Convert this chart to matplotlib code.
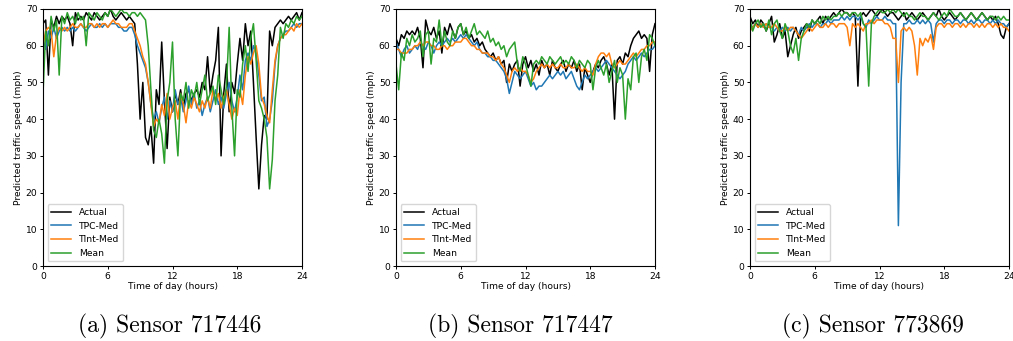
import numpy as np
import matplotlib
matplotlib.use('Agg')
import matplotlib.pyplot as plt
plt.rcParams.update({'font.size': 6.6})
plt.rcParams.update({'lines.linewidth': 1.1})

# time of day, one sample every 15 minutes
hours = np.arange(97) * 0.25

a_actual = [66, 67, 52, 67, 65, 68, 66, 68, 67, 68, 66, 60, 69, 67, 68, 67, 69, 68, 67, 69,
            68, 67, 68, 69, 68, 70, 68, 67, 68, 69, 68, 67, 68, 67, 66, 55, 40, 50, 35, 33,
            38, 28, 48, 44, 61, 45, 32, 46, 42, 47, 44, 48, 43, 47, 48, 45, 47, 48, 46, 50,
            48, 57, 47, 52, 56, 65, 30, 47, 55, 42, 50, 47, 55, 62, 56, 66, 60, 64, 50, 35,
            21, 33, 41, 40, 64, 60, 65, 66, 67, 66, 67, 68, 67, 68, 69, 67, 69]
a_tpc = [62, 59, 64, 62, 65, 62, 64, 65, 64, 65, 64, 65, 64, 65, 66, 65, 64, 65, 66, 65,
         65, 66, 65, 66, 65, 66, 66, 66, 65, 65, 64, 64, 65, 65, 63, 60, 58, 56, 54, 50,
         44, 40, 42, 39, 43, 46, 40, 45, 42, 48, 44, 46, 42, 45, 49, 44, 47, 43, 45, 41,
         44, 46, 42, 45, 48, 44, 46, 43, 47, 50, 45, 42, 46, 52, 48, 56, 58, 56, 60, 58,
         52, 45, 46, 38, 40, 45, 55, 60, 62, 63, 64, 64, 65, 66, 65, 66, 66]
a_tint = [60, 64, 65, 64, 57, 63, 65, 64, 65, 64, 65, 66, 65, 65, 66, 65, 65, 66, 66, 65,
          66, 65, 66, 66, 65, 66, 67, 66, 66, 65, 65, 65, 66, 66, 64, 62, 60, 57, 55, 50,
          44, 38, 40, 39, 44, 41, 47, 40, 43, 45, 40, 47, 44, 39, 45, 43, 46, 44, 42, 45,
          43, 46, 43, 48, 45, 47, 43, 46, 48, 44, 40, 43, 41, 48, 44, 52, 57, 55, 58, 60,
          55, 46, 44, 41, 39, 48, 56, 60, 62, 63, 63, 64, 65, 64, 66, 65, 66]
a_mean = [47, 64, 60, 68, 64, 67, 52, 68, 66, 69, 67, 68, 66, 69, 67, 68, 60, 69, 68, 67,
          69, 68, 67, 69, 68, 70, 69, 68, 69, 70, 69, 69, 68, 69, 69, 68, 69, 68, 67, 60,
          48, 37, 35, 40, 36, 28, 45, 50, 61, 40, 30, 47, 45, 50, 43, 48, 46, 50, 44, 48,
          52, 45, 47, 49, 44, 52, 48, 44, 49, 65, 43, 30, 48, 46, 55, 60, 53, 62, 66, 56,
          45, 43, 40, 35, 21, 29, 45, 52, 65, 62, 66, 65, 67, 66, 68, 67, 68]

b_actual = [62, 60, 63, 62, 64, 63, 64, 63, 65, 62, 54, 67, 64, 63, 65, 62, 64, 58, 65, 63,
            66, 64, 62, 65, 66, 63, 64, 62, 63, 61, 62, 60, 61, 59, 58, 57, 58, 56, 57, 55,
            56, 50, 55, 53, 55, 56, 49, 55, 57, 54, 56, 53, 55, 52, 56, 54, 55, 52, 56, 54,
            53, 55, 56, 53, 55, 54, 56, 53, 55, 48, 54, 52, 50, 53, 55, 54, 56, 57, 55, 52,
            55, 40, 56, 57, 55, 58, 57, 60, 62, 63, 64, 62, 63, 62, 53, 63, 66]
b_tpc = [61, 59, 57, 59, 60, 58, 59, 60, 59, 61, 60, 59, 61, 60, 58, 60, 61, 60, 61, 62,
         61, 62, 61, 62, 63, 62, 63, 62, 61, 60, 61, 59, 58, 58, 57, 57, 56, 56, 55, 54,
         53, 51, 47, 50, 53, 52, 51, 52, 53, 51, 49, 50, 48, 49, 49, 50, 51, 52, 51, 52,
         53, 52, 53, 51, 52, 53, 51, 49, 48, 50, 52, 51, 52, 53, 54, 53, 54, 55, 56, 55,
         54, 53, 52, 51, 52, 53, 55, 56, 57, 56, 57, 58, 57, 58, 59, 59, 60]
b_tint = [59, 59, 58, 58, 58, 59, 59, 60, 60, 61, 60, 61, 61, 60, 60, 59, 59, 60, 60, 59,
          60, 60, 61, 61, 61, 62, 62, 61, 60, 60, 59, 59, 58, 58, 58, 57, 57, 56, 57, 55,
          54, 52, 50, 53, 54, 53, 54, 53, 53, 52, 50, 51, 53, 54, 55, 54, 55, 54, 55, 54,
          54, 55, 54, 54, 55, 54, 54, 55, 54, 53, 54, 53, 53, 52, 55, 57, 58, 58, 57, 58,
          55, 54, 55, 56, 55, 55, 56, 57, 58, 57, 58, 59, 59, 60, 60, 61, 61]
b_mean = [55, 48, 58, 56, 62, 60, 63, 61, 62, 64, 57, 63, 64, 55, 62, 61, 67, 60, 64, 61,
          60, 64, 62, 65, 66, 63, 65, 62, 64, 66, 63, 64, 63, 62, 64, 61, 62, 60, 61, 59,
          60, 57, 59, 60, 61, 55, 53, 57, 55, 52, 49, 55, 56, 55, 57, 56, 55, 57, 56, 55,
          56, 57, 55, 56, 55, 57, 56, 54, 56, 55, 54, 56, 55, 48, 54, 56, 54, 52, 55, 50,
          53, 56, 50, 54, 52, 40, 51, 48, 57, 58, 50, 57, 59, 56, 63, 62, 60]

c_actual = [68, 66, 67, 65, 67, 66, 64, 66, 68, 61, 63, 66, 62, 64, 57, 60, 63, 65, 62, 64,
            65, 66, 64, 67, 66, 67, 68, 66, 68, 67, 68, 69, 68, 69, 70, 69, 69, 68, 69, 68,
            49, 68, 69, 68, 69, 70, 69, 68, 69, 70, 69, 68, 69, 69, 68, 67, 68, 69, 67, 68,
            69, 68, 67, 68, 69, 68, 67, 68, 69, 68, 70, 68, 67, 68, 69, 68, 67, 68, 69, 68,
            67, 68, 69, 68, 67, 68, 69, 68, 67, 68, 67, 68, 66, 63, 62, 65, 66]
c_tpc = [66, 65, 66, 65, 66, 65, 66, 65, 65, 64, 65, 64, 65, 64, 65, 64, 65, 64, 63, 65,
         64, 65, 66, 65, 66, 66, 65, 66, 66, 67, 66, 67, 67, 67, 68, 67, 68, 67, 68, 68,
         67, 68, 66, 65, 67, 66, 67, 68, 67, 67, 68, 67, 67, 66, 66, 11, 50, 66, 66, 67,
         66, 66, 67, 66, 67, 66, 67, 66, 61, 66, 67, 67, 66, 67, 67, 66, 67, 67, 66, 67,
         67, 66, 67, 66, 67, 67, 66, 67, 67, 66, 67, 66, 67, 66, 66, 65, 66]
c_tint = [64, 65, 66, 65, 66, 65, 66, 65, 65, 66, 65, 64, 64, 65, 64, 65, 65, 64, 63, 62,
          63, 64, 65, 64, 65, 66, 65, 65, 66, 65, 66, 66, 65, 66, 66, 66, 65, 60, 66, 65,
          66, 65, 64, 66, 66, 67, 66, 67, 67, 67, 66, 66, 65, 62, 62, 50, 64, 65, 64, 65,
          64, 60, 52, 62, 60, 62, 61, 63, 59, 65, 66, 66, 65, 66, 66, 65, 66, 66, 65, 66,
          65, 66, 66, 65, 66, 65, 66, 65, 66, 66, 65, 66, 65, 66, 65, 65, 64]
c_mean = [67, 64, 66, 67, 65, 66, 64, 67, 63, 66, 67, 64, 62, 66, 64, 60, 58, 62, 56, 62,
          64, 66, 65, 67, 66, 67, 66, 68, 67, 68, 67, 68, 68, 69, 68, 69, 69, 68, 69, 69,
          68, 69, 66, 65, 49, 66, 68, 69, 70, 69, 69, 70, 69, 70, 69, 70, 69, 68, 69, 68,
          68, 67, 68, 69, 68, 68, 67, 68, 69, 68, 67, 68, 69, 68, 70, 69, 68, 68, 69, 68,
          67, 68, 69, 68, 67, 68, 69, 68, 67, 68, 68, 67, 68, 67, 68, 67, 67]

panels = [
    ('(a) Sensor 717446', a_actual, a_tpc, a_tint, a_mean),
    ('(b) Sensor 717447', b_actual, b_tpc, b_tint, b_mean),
    ('(c) Sensor 773869', c_actual, c_tpc, c_tint, c_mean),
]
lefts = [43, 396, 750]
caption_x = [170, 520, 873]

fig = plt.figure(figsize=(10.13, 3.41), dpi=100, facecolor='w')
for k, (caption, actual, tpc, tint, mean) in enumerate(panels):
    ax = fig.add_axes([lefts[k]/1013, 1 - 266/341, 259/1013, 257/341])
    ax.plot(hours, actual, color='black', label='Actual')
    ax.plot(hours, tpc, color='tab:blue', label='TPC-Med')
    ax.plot(hours, tint, color='tab:orange', label='TInt-Med')
    ax.plot(hours, mean, color='tab:green', label='Mean')
    ax.set_xlim(0, 24)
    ax.set_ylim(0, 70)
    ax.set_xticks([0, 6, 12, 18, 24])
    ax.set_yticks(range(0, 71, 10))
    ax.set_xlabel('Time of day (hours)', labelpad=1)
    ax.set_ylabel('Predicted traffic speed (mph)', labelpad=2)
    ax.tick_params(length=2.5, pad=1.5, width=0.7)
    for s in ax.spines.values():
        s.set_linewidth(0.8)
    ax.legend(loc='lower left', fontsize=6.6, handlelength=2.2, borderaxespad=0.5)
    fig.text(caption_x[k]/1013, 1 - 326/341, caption, ha='center', va='center',
             fontsize=17, family='cmr10')

plt.savefig('out.png', dpi=100)
